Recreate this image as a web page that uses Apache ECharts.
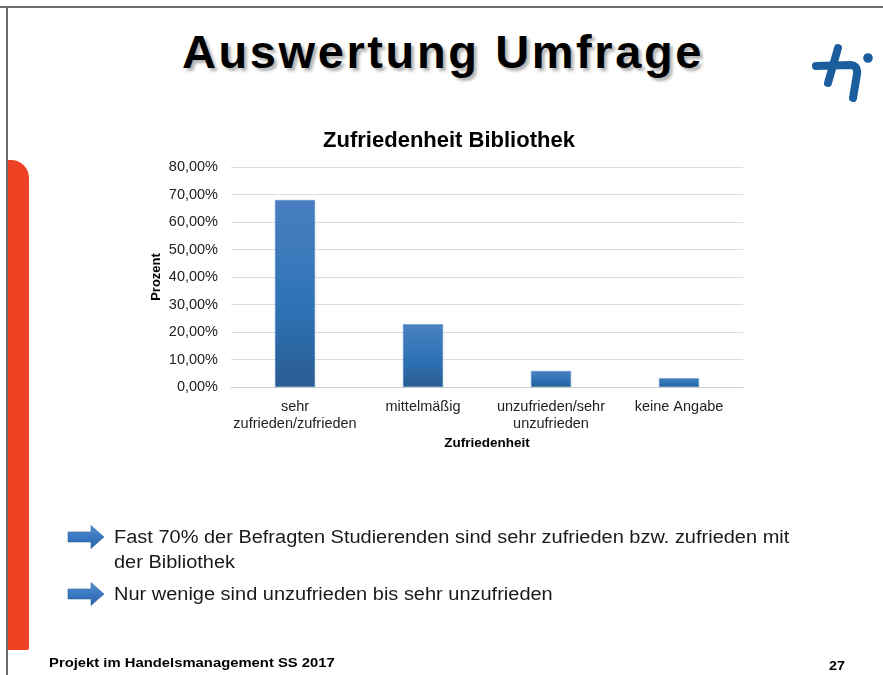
<!DOCTYPE html>
<html>
<head>
<meta charset="utf-8">
<script src="https://cdn.jsdelivr.net/npm/echarts@6/dist/echarts.min.js"></script>
<style>
  html, body { margin: 0; padding: 0; background: #fff; }
  body { width: 883px; height: 675px; position: relative; overflow: hidden; font-family: "Liberation Sans", Arial, sans-serif; }
  .frame-top { position: absolute; left: 0; top: 6px; width: 883px; height: 2px; background: #6b6b6b; }
  .frame-left { position: absolute; left: 6px; top: 6px; width: 2px; height: 669px; background: #6b6b6b; }
  .redbar { position: absolute; left: 8px; top: 160px; width: 21px; height: 490px; background: #ef4123; border-top-right-radius: 18px; border-bottom-right-radius: 2px; }
  .title { position: absolute; left: 0; width: 886px; top: 24px; text-align: center; font-size: 47px; font-weight: bold; letter-spacing: 2.6px; color: #000; text-shadow: 3px 3px 3px rgba(0,0,0,0.3); }
  .bullet { position: absolute; left: 114px; font-size: 18px; color: #1a1a1a; line-height: 25px; width: 615px; transform: scaleX(1.11); transform-origin: 0 0; }
  .arrow { position: absolute; left: 67px; }
  .footer { position: absolute; left: 49px; top: 655px; font-size: 13px; font-weight: bold; color: #000; transform: scaleX(1.14); transform-origin: 0 0; }
  .pageno { position: absolute; left: 829px; top: 658px; font-size: 13px; font-weight: bold; color: #000; transform: scaleX(1.1); transform-origin: 0 0; }
  #chart { position: absolute; left: 0; top: 0; width: 883px; height: 675px; }
</style>
</head>
<body>
<div class="frame-top"></div>
<div class="frame-left"></div>
<div class="redbar"></div>
<div class="title">Auswertung Umfrage</div>
<svg style="position:absolute;left:0;top:0" width="883" height="120">
  <g stroke="#1a5e9e" stroke-width="8" stroke-linecap="round" fill="none">
    <path d="M816,66 L850,65 Q858,65 857,74 L853,98"/>
    <path d="M838,48 L828,83"/>
  </g>
  <circle cx="868" cy="58" r="4.8" fill="#1a5e9e"/>
</svg>
<div id="chart"></div>
<svg class="arrow" style="top:525px" width="40" height="26">
  <defs>
    <linearGradient id="ag" x1="0" y1="0" x2="0" y2="1">
      <stop offset="0" stop-color="#5a8fd0"/><stop offset="0.5" stop-color="#3a78c2"/><stop offset="1" stop-color="#2f65a8"/>
    </linearGradient>
  </defs>
  <path d="M1,7 L24,7 L24,0.5 L37,12 L24,23.5 L24,17 L1,17 Z" fill="url(#ag)" stroke="#2d64a5" stroke-width="0.6"/>
</svg>
<svg class="arrow" style="top:582px" width="40" height="26">
  <path d="M1,7 L24,7 L24,0.5 L37,12 L24,23.5 L24,17 L1,17 Z" fill="url(#ag)" stroke="#2d64a5" stroke-width="0.6"/>
</svg>
<div class="bullet" style="top:525px">Fast 70% der Befragten Studierenden sind sehr zufrieden bzw. zufrieden mit der Bibliothek</div>
<div class="bullet" style="top:582px">Nur wenige sind unzufrieden bis sehr unzufrieden</div>
<div class="footer">Projekt im Handelsmanagement SS 2017</div>
<div class="pageno">27</div>
<script type="text/javascript">
    var categories = ['sehr\nzufrieden/zufrieden', 'mittelmäßig', 'unzufrieden/sehr\nunzufrieden', 'keine Angabe'];
    var values = [68.0, 22.8, 5.8, 3.2];
    var yTicks = { min: 0, max: 80, interval: 10 };

    var myChart = echarts.init(document.getElementById('chart'));
    var option = {
        title: {
            text: 'Zufriedenheit Bibliothek',
            left: 444,
            top: 125,
            textAlign: 'center',
            textStyle: { fontFamily: 'Liberation Sans', fontSize: 22, fontWeight: 'bold', color: '#000' }
        },
        grid: { left: 231, right: 140, top: 167, bottom: 288 },
        xAxis: {
            type: 'category',
            data: categories,
            name: 'Zufriedenheit',
            nameLocation: 'middle',
            nameGap: 49,
            nameTextStyle: { fontFamily: 'Liberation Sans', fontSize: 13.5, fontWeight: 'bold', color: '#000' },
            axisLine: { lineStyle: { color: '#d0d0d0', width: 1 } },
            axisTick: { show: false },
            axisLabel: { fontFamily: 'Liberation Sans', fontSize: 14.5, color: '#222', margin: 11, lineHeight: 17, interval: 0 }
        },
        yAxis: {
            type: 'value',
            min: yTicks.min,
            max: yTicks.max,
            interval: yTicks.interval,
            name: 'Prozent',
            nameLocation: 'middle',
            nameGap: 68,
            nameMoveOverlap: false,
            nameTextStyle: { fontFamily: 'Liberation Sans', fontSize: 13, fontWeight: 'bold', color: '#000' },
            axisLine: { show: false },
            axisTick: { show: false },
            splitLine: { lineStyle: { color: '#dcdcdc', width: 1 } },
            axisLabel: {
                fontFamily: 'Liberation Sans', fontSize: 14.5, color: '#222', margin: 13,
                formatter: function (v) { return v.toFixed(2).replace('.', ',') + '%'; }
            }
        },
        series: [{
            type: 'bar',
            data: values,
            barWidth: 40,
            itemStyle: {
                color: new echarts.graphic.LinearGradient(0, 0, 0, 1, [
                    { offset: 0, color: '#4a7fc0' },
                    { offset: 0.55, color: '#2e74b7' },
                    { offset: 1, color: '#2a5c92' }
                ]),
                borderColor: '#5b8fcc',
                borderWidth: 0.5
            }
        }],
        animation: false
    };
    myChart.setOption(option);
</script>
</body>
</html>
